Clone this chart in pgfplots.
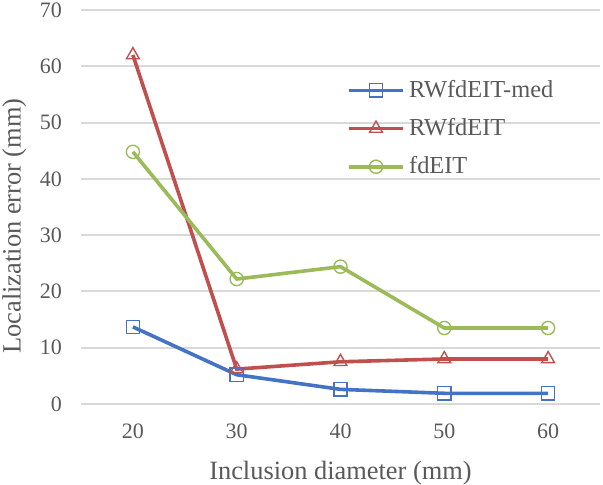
\documentclass[border=0pt]{standalone}
\usepackage{fontspec}
\setmainfont{Liberation Serif}
\usepackage{pgfplots}
\pgfplotsset{compat=1.18}

\definecolor{cblue}{HTML}{4472C4}
\definecolor{cred}{HTML}{C0504D}
\definecolor{cgreen}{HTML}{9BBB59}
\definecolor{cgrid}{HTML}{D9D9D9}
\definecolor{ctext}{HTML}{595959}

\begin{document}
\begin{tikzpicture}
\begin{axis}[
    scale only axis,
    width=259.5pt,
    height=197pt,
    xmin=-0.5, xmax=4.5,
    ymin=0, ymax=70,
    xtick={0,1,2,3,4},
    xticklabels={20,30,40,50,60},
    ytick={0,10,...,70},
    axis line style={draw=none},
    major tick length=0pt,
    ymajorgrids,
    grid style={cgrid, line width=1pt},
    /pgf/number format/assume math mode=true,
    tick label style={font=\fontsize{11}{13}\selectfont, text=ctext},
    yticklabel style={xshift=-6pt},
    xticklabel style={yshift=-6.5pt},
    xlabel={Inclusion diameter (mm)},
    ylabel={Localization error (mm)},
    label style={font=\fontsize{13.2}{15}\selectfont, text=ctext},
    xlabel style={yshift=-4.5pt},
    ylabel style={yshift=0pt, xshift=-9.5pt},
    legend style={at={(0.50,0.843)}, anchor=north west, draw=none, fill=none,
        font=\fontsize{12.2}{14}\selectfont, text=ctext,
        row sep=5pt, cells={anchor=west}},
    legend image code/.code={\draw[mark repeat=2,mark phase=2] plot coordinates {(0cm,0cm) (0.48cm,0cm) (0.96cm,0cm)};},
    every axis plot/.append style={line width=1.8pt, mark options={solid, fill=none, line width=0.7pt}},
]
\addplot[cblue, mark=square, mark size=3.3pt] coordinates {(0,13.7) (1,5.2) (2,2.6) (3,1.9) (4,1.9)};
\addlegendentry{RWfdEIT-med}
\addplot[cred, mark=triangle, mark size=3.7pt] coordinates {(0,62.0) (1,6.2) (2,7.5) (3,8.0) (4,8.0)};
\addlegendentry{RWfdEIT}
\addplot[cgreen, mark=o, mark size=3.3pt] coordinates {(0,44.8) (1,22.2) (2,24.4) (3,13.5) (4,13.5)};
\addlegendentry{fdEIT}
\coordinate (A) at (rel axis cs:0,0);
\coordinate (B) at (rel axis cs:1,1);
\end{axis}
\pgfresetboundingbox
\path ([shift={(-40.5pt,-40.5pt)}]A) rectangle ([shift={(1.5pt,5pt)}]B);
\end{tikzpicture}
\end{document}
